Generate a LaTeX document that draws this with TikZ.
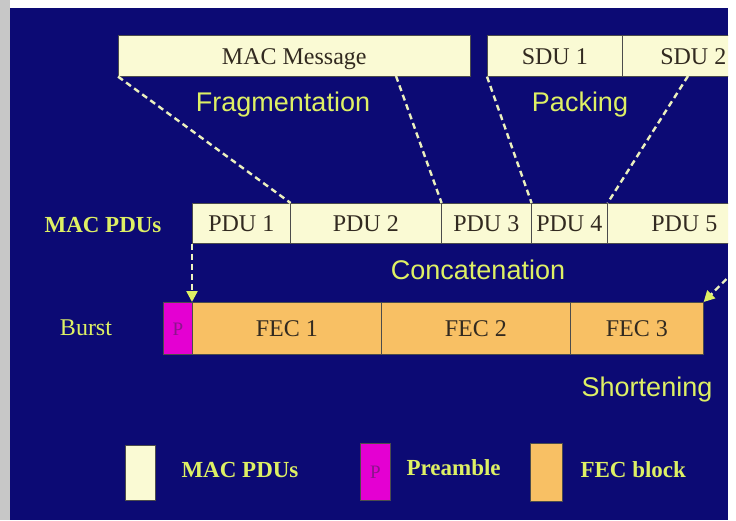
\documentclass[tikz,border=0pt]{standalone}
\usepackage{fontspec}
\setmainfont{Liberation Serif}
\newfontfamily\arialf{Liberation Sans}
\usetikzlibrary{arrows.meta}
\definecolor{bg}{RGB}{12,10,116}
\definecolor{cream}{RGB}{250,250,212}
\definecolor{fecc}{RGB}{248,192,100}
\definecolor{mag}{RGB}{228,0,210}
\definecolor{ylw}{RGB}{222,240,100}
\definecolor{dtext}{RGB}{50,42,32}
\definecolor{ptext}{RGB}{140,20,140}
\definecolor{dashc}{RGB}{235,240,190}
\begin{document}
\begin{tikzpicture}[x=1pt,y=-1pt,
  cell/.style={draw=black!70, line width=0.6pt, anchor=north west, inner sep=0pt,
    font=\fontsize{24}{24}\selectfont, text=dtext, text height=17pt, text depth=0pt},
  pdu/.style={cell, fill=cream},
  fecbox/.style={cell, fill=fecc},
  prebox/.style={cell, fill=mag, text=ptext, font=\fontsize{19}{19}\selectfont, text height=14pt},
  opname/.style={text=ylw, font=\arialf\fontsize{27}{27}\selectfont},
  rowlab/.style={text=ylw, font=\bfseries\fontsize{23}{23}\selectfont},
  dsh/.style={draw=dashc, line width=2.4pt, dash pattern=on 6pt off 4pt},
  arr/.style={dsh, -{Triangle[length=11pt,width=11pt,color=ylw]}}]
\useasboundingbox (0,0) rectangle (736,520);
\fill[white] (0,0) rectangle (736,520);
\fill[black!22] (0,0) rectangle (10,520);
\fill[bg] (10,8) rectangle (728,520);

\begin{scope}
\clip (10,8) rectangle (728,520);
% top row
\node[pdu, minimum width=352pt, minimum height=41pt] (msg) at (118,35) {MAC Message};
\node[pdu, minimum width=135pt, minimum height=41pt] (sdu1) at (487,35) {SDU 1};
\node[pdu, minimum width=142pt, minimum height=41pt] (sdu2) at (622,35) {SDU 2};
% PDU row
\node[pdu, minimum width=98pt, minimum height=40pt] (pdu1) at (192,203) {PDU 1};
\node[pdu, minimum width=151pt, minimum height=40pt] (pdu2) at (290,203) {PDU 2};
\node[pdu, minimum width=90pt, minimum height=40pt] (pdu3) at (441,203) {PDU 3};
\node[pdu, minimum width=76pt, minimum height=40pt] (pdu4) at (531,203) {PDU 4};
\node[pdu, minimum width=154pt, minimum height=40pt] (pdu5) at (607,203) {PDU 5};
% burst row
\node[prebox, minimum width=29pt, minimum height=52pt] (pre) at (163,302) {P};
\node[fecbox, minimum width=189pt, minimum height=52pt] (fec1) at (192,302) {FEC 1};
\node[fecbox, minimum width=189pt, minimum height=52pt] (fec2) at (381,302) {FEC 2};
\node[fecbox, minimum width=133pt, minimum height=52pt] (fec3) at (570,302) {FEC 3};

% connectors
\coordinate (m2) at (396,76);
\coordinate (s2) at (688,76);
\draw[dsh] (msg.south west) -- (pdu1.north east);
\draw[dsh] (m2) -- (pdu2.north east);
\draw[dsh] (sdu1.south west) -- (pdu3.north east);
\draw[dsh] (s2) -- (pdu4.north east);
\draw[arr] (pdu1.south west) -- (fec1.north west);
\draw[arr] (pdu5.south east) -- (fec3.north east);
\end{scope}

% operation names
\node[opname] (frag) at (283,105) {Fragmentation};
\node[opname] (pack) at (580,105) {Packing};
\node[opname] (conc) at (478,270) {Concatenation};
\node[opname] (short) at (647,390) {Shortening};

% row labels
\node[rowlab] (lpdu) at (103,225) {MAC PDUs};
\node[text=ylw, font=\fontsize{24}{24}\selectfont] (lburst) at (86,328) {Burst};

% legend
\node[pdu, minimum width=30pt, minimum height=55pt] (lg1) at (125,445) {};
\node[rowlab, anchor=west] (lg1t) at (178,470) {MAC PDUs};
\node[prebox, minimum width=30pt, minimum height=57pt] (lg2) at (360,443) {P};
\node[rowlab, anchor=west] (lg2t) at (403,468) {Preamble};
\node[fecbox, minimum width=32pt, minimum height=58pt] (lg3) at (530,443) {};
\node[rowlab, anchor=west] (lg3t) at (577,470) {FEC block};
\end{tikzpicture}
\end{document}
